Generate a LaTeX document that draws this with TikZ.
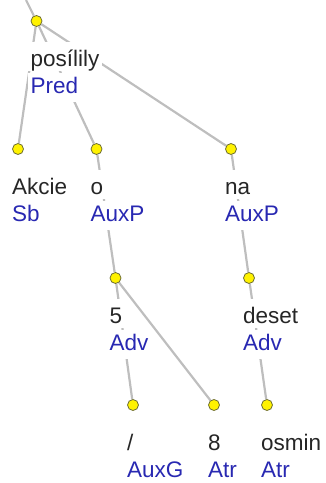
\documentclass[tikz,border=0pt]{standalone}
\usepackage{fontspec}
\setmainfont{Liberation Sans}
\usetikzlibrary{positioning, backgrounds}
\definecolor{afunblue}{RGB}{40,40,178}
\definecolor{edgegray}{RGB}{190,190,190}
\definecolor{dotrim}{RGB}{110,110,50}
\tikzset{
  treedot/.style = {circle, draw=dotrim, fill=yellow, line width=0.8pt, inner sep=0, minimum size=11pt},
  wordlabel/.style = {anchor=base west, fill=white, inner xsep=2.5pt, inner ysep=1pt,
    text height=23pt, text depth=3.5pt, text=black!85, font=\fontsize{22.5pt}{27pt}\selectfont},
  afunlabel/.style = {wordlabel, text height=20pt, text depth=7pt, text=afunblue},
  treeedge/.style = {draw=edgegray, line width=2.2pt},
}

\begin{document}
\begin{tikzpicture}[x=1pt, y=-1pt]
        \useasboundingbox (0,0) rectangle (325,483);
        % parent of the root lies above the picture
        \coordinate (top) at (26,0);
        % dot, then word and afun below it
        \foreach \N/\x/\y/\w/\f in {
          posilily/36.5/21/posílily/Pred,
          akcie/18/149/Akcie/Sb,
          o/96.5/149/o/AuxP,
          na/231/149/na/AuxP,
          five/115.5/278/5/Adv,
          deset/249/278/deset/Adv,
          slash/133/405/{/}/AuxG,
          eight/214/405/8/Atr,
          osmin/267/405/osmin/Atr%
        }{
          \node (\N) [treedot] at (\x,\y) {};
          \node (\N-w) [wordlabel, xshift=-8.5pt, yshift=-45pt] at (\N.center) {\w};
          \node (\N-f) [afunlabel] at ([yshift=-27.5pt]\N-w.base west) {\f};
        }
        \begin{pgfonlayer}{background}
          \foreach \a/\b in {top/posilily, posilily/akcie, posilily/o, posilily/na,
            o/five, five/slash, five/eight, na/deset, deset/osmin}
            \draw [treeedge] (\a) -- (\b);
        \end{pgfonlayer}
      \end{tikzpicture}
\end{document}
